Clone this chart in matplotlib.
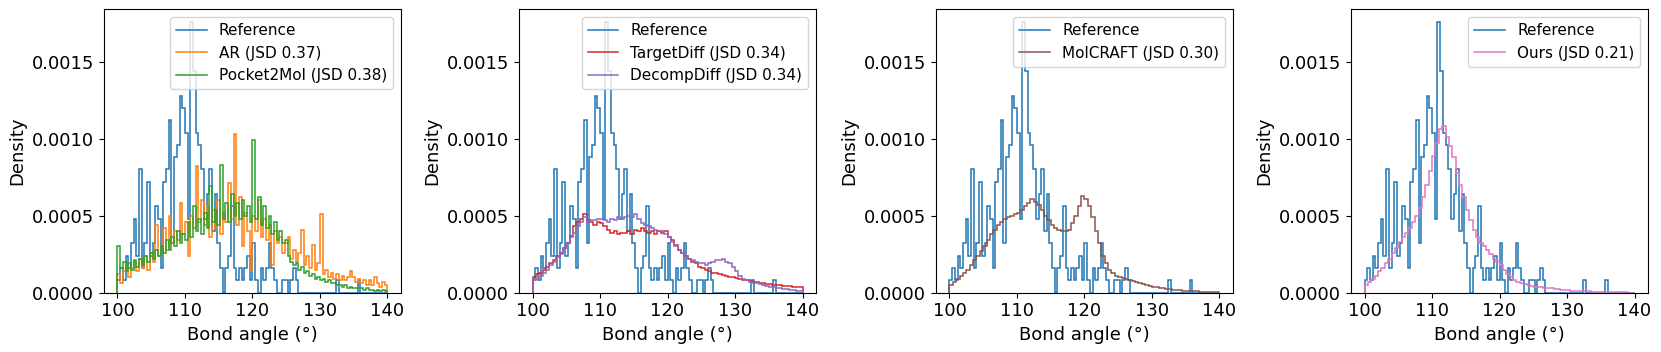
import numpy as np
import matplotlib
matplotlib.use("Agg")
import matplotlib.pyplot as plt

# reference histogram: counts per 0.4 deg bin, one count = 0.00008 density
ref_unit = 0.00008
ref_counts = [1, 2, 1, 3, 2, 4, 6, 3, 10, 2,
              4, 9, 3, 4, 7, 6, 2, 9, 10, 14,
              4, 11, 12, 16, 15, 13, 6, 22, 18, 13,
              12, 10, 6, 8, 10, 5, 8, 4, 2, 0,
              2, 3, 7, 2, 1, 2, 1, 2, 3, 1,
              4, 1, 0, 2, 1, 2, 4, 2, 1, 0,
              0, 1, 1, 0, 1, 2, 1, 0, 0, 0,
              0, 0, 0, 0, 0, 0, 0, 0, 0, 0,
              0, 1, 0, 0, 0, 0, 0, 0, 0, 1,
              0, 0, 0, 0, 0, 0, 0, 0, 0, 0]

# model histograms, density in units of 1e-4
ar = [1.2, 0.6, 1.4, 1.8, 1.0, 1.6, 2.0, 1.4, 2.2, 1.6,
      2.4, 1.5, 2.6, 2.0, 4.4, 2.4, 3.0, 4.2, 2.8, 5.0,
      3.2, 4.0, 3.4, 5.8, 3.8, 4.6, 2.4, 5.0, 4.2, 8.2,
      4.6, 6.0, 4.4, 5.6, 3.6, 5.4, 4.2, 6.0, 3.8, 5.2,
      4.6, 7.1, 4.8, 10.3, 4.4, 6.2, 3.0, 5.2, 4.0, 1.4,
      5.0, 4.0, 6.0, 3.6, 4.8, 3.4, 4.4, 1.8, 4.0, 3.2,
      3.6, 2.6, 3.2, 3.6, 2.2, 2.8, 2.0, 2.6, 4.1, 1.8,
      2.4, 1.6, 3.1, 1.5, 1.9, 5.1, 1.2, 1.5, 1.0, 1.3,
      0.9, 1.2, 0.8, 1.1, 0.8, 1.0, 1.4, 1.0, 0.7, 0.9,
      0.6, 0.8, 0.5, 0.8, 0.5, 1.0, 0.6, 0.4, 0.7, 0.5]
pocket2mol = [3.0, 1.6, 2.0, 1.4, 1.9, 1.5, 2.1, 1.7, 2.2, 1.8,
              2.4, 2.0, 2.6, 2.2, 2.8, 2.4, 3.0, 2.6, 3.4, 2.8,
              3.6, 3.0, 4.0, 3.2, 3.8, 3.4, 4.6, 3.6, 5.6, 4.0,
              4.8, 3.8, 5.2, 4.2, 6.9, 4.6, 5.4, 4.4, 8.3, 4.8,
              5.8, 4.6, 6.4, 5.0, 5.8, 4.8, 6.0, 5.0, 5.6, 4.6,
              9.9, 4.8, 6.2, 4.4, 5.6, 4.2, 5.0, 3.8, 4.6, 3.4,
              4.0, 3.2, 3.4, 2.4, 2.0, 1.8, 1.9, 1.5, 1.7, 1.3,
              1.4, 1.1, 1.2, 0.9, 1.0, 0.8, 0.9, 0.7, 0.8, 0.6,
              0.6, 0.5, 0.5, 0.4, 0.5, 0.3, 0.4, 0.3, 0.3, 0.3,
              0.3, 0.2, 0.3, 0.2, 0.2, 0.1, 0.2, 0.1, 0.2, 0.1]
targetdiff = [1.0, 1.2, 1.3, 1.5, 1.7, 1.9, 2.1, 2.4, 2.6, 2.9,
              3.2, 3.7, 4.3, 4.6, 4.8, 5.1, 4.7, 4.6, 4.4, 4.6,
              4.5, 4.3, 4.1, 3.9, 4.0, 3.8, 3.9, 3.9, 4.0, 3.8,
              4.1, 4.0, 4.2, 4.0, 3.9, 4.0, 3.8, 4.0, 3.9, 4.0,
              3.6, 3.4, 3.1, 2.8, 2.6, 2.4, 2.2, 2.0, 1.9, 1.7,
              1.6, 1.5, 1.4, 1.3, 1.25, 1.2, 1.15, 1.1, 1.05, 1.0,
              0.95, 0.9, 0.85, 0.8, 0.75, 0.7, 0.68, 0.65, 0.6, 0.58,
              0.55, 0.52, 0.5, 0.48, 0.46, 0.44, 0.42, 0.4, 0.38, 0.34]
decompdiff = [0.8, 0.9, 1.1, 1.3, 1.5, 1.8, 2.0, 2.3, 2.5, 2.9,
              3.2, 3.6, 3.9, 4.3, 4.6, 4.9, 4.6, 4.7, 4.7, 4.8,
              4.8, 4.7, 4.6, 4.8, 4.7, 4.9, 4.8, 4.9, 5.0, 4.9,
              5.1, 4.8, 4.5, 4.4, 4.3, 4.2, 4.1, 4.0, 4.0, 3.8,
              3.6, 3.3, 3.0, 2.8, 2.6, 2.4, 2.2, 2.1, 2.0, 1.9,
              1.9, 1.8, 1.9, 2.0, 2.1, 2.1, 2.2, 2.0, 1.9, 1.7,
              1.4, 1.1, 0.9, 0.8, 0.7, 0.65, 0.6, 0.55, 0.5, 0.45,
              0.4, 0.35, 0.3, 0.28, 0.25, 0.22, 0.2, 0.16, 0.14, 0.12]
molcraft = [0.5, 0.7, 0.9, 1.1, 1.3, 1.5, 1.8, 2.1, 2.4, 2.7,
            3.0, 3.4, 3.8, 4.1, 4.4, 4.6, 4.8, 4.9, 5.0, 5.1,
            5.2, 5.4, 5.6, 5.8, 6.1, 5.9, 5.7, 5.4, 5.0, 4.7,
            4.4, 4.2, 4.1, 4.0, 4.0, 4.1, 4.5, 5.0, 5.6, 6.3,
            6.1, 5.6, 4.9, 4.0, 3.2, 2.4, 1.9, 1.5, 1.3, 1.1,
            1.0, 0.95, 0.9, 0.8, 0.75, 0.7, 0.62, 0.55, 0.5, 0.45,
            0.4, 0.35, 0.3, 0.28, 0.25, 0.22, 0.2, 0.18, 0.15, 0.13,
            0.12, 0.1, 0.09, 0.08, 0.07, 0.06, 0.05, 0.04, 0.03, 0.02]
ours = [0.5, 0.7, 0.9, 1.1, 1.4, 1.6, 1.9, 2.2, 2.6, 2.9,
        3.3, 3.6, 3.9, 4.2, 4.6, 5.0, 5.5, 6.2, 7.0, 7.9,
        8.9, 9.7, 10.6, 10.8, 10.1, 9.5, 8.8, 7.8, 7.0, 6.2,
        5.4, 4.7, 4.1, 3.6, 3.2, 3.0, 2.8, 2.5, 2.2, 2.0,
        1.8, 1.5, 1.2, 1.0, 0.8, 0.7, 0.6, 0.55, 0.5, 0.45,
        0.4, 0.38, 0.35, 0.32, 0.3, 0.28, 0.25, 0.22, 0.2, 0.18,
        0.15, 0.13, 0.12, 0.1, 0.1, 0.08, 0.08, 0.07, 0.06, 0.05,
        0.05, 0.04, 0.04, 0.03, 0.03, 0.02, 0.02, 0.02, 0.01, 0.01]

panels = [
    [("AR (JSD 0.37)", ar, "tab:orange"),
     ("Pocket2Mol (JSD 0.38)", pocket2mol, "tab:green")],
    [("TargetDiff (JSD 0.34)", targetdiff, "tab:red"),
     ("DecompDiff (JSD 0.34)", decompdiff, "tab:purple")],
    [("MolCRAFT (JSD 0.30)", molcraft, "tab:brown")],
    [("Ours (JSD 0.21)", ours, "tab:pink")],
]

lo, hi = 100, 140
plt.rcParams.update({"font.size": 13})
fig = plt.figure(figsize=(16.61, 3.52), dpi=100)
lefts = [0.0626, 0.3125, 0.5635, 0.8134]

ref = np.array(ref_counts) * ref_unit
for left, models in zip(lefts, panels):
    ax = fig.add_axes([left, 0.1685, 0.1788, 0.805])
    ax.stairs(ref, np.linspace(lo, hi, len(ref) + 1), color="tab:blue",
              lw=1.1, label="Reference")
    for name, vals, col in models:
        v = np.array(vals) * 1e-4
        ax.stairs(v, np.linspace(lo, hi, len(v) + 1), color=col, lw=1.1,
                  label=name)
    ax.set_xlim(98, 142)
    ax.set_ylim(0, 0.00184)
    ax.set_xticks([100, 110, 120, 130, 140])
    ax.set_yticks([0, 0.0005, 0.001, 0.0015])
    ax.set_yticklabels(["0.0000", "0.0005", "0.0010", "0.0015"])
    ax.set_xlabel("Bond angle (°)")
    ax.set_ylabel("Density")
    ax.legend(loc="upper right", fontsize=11)

fig.savefig("out.png", dpi=100)
